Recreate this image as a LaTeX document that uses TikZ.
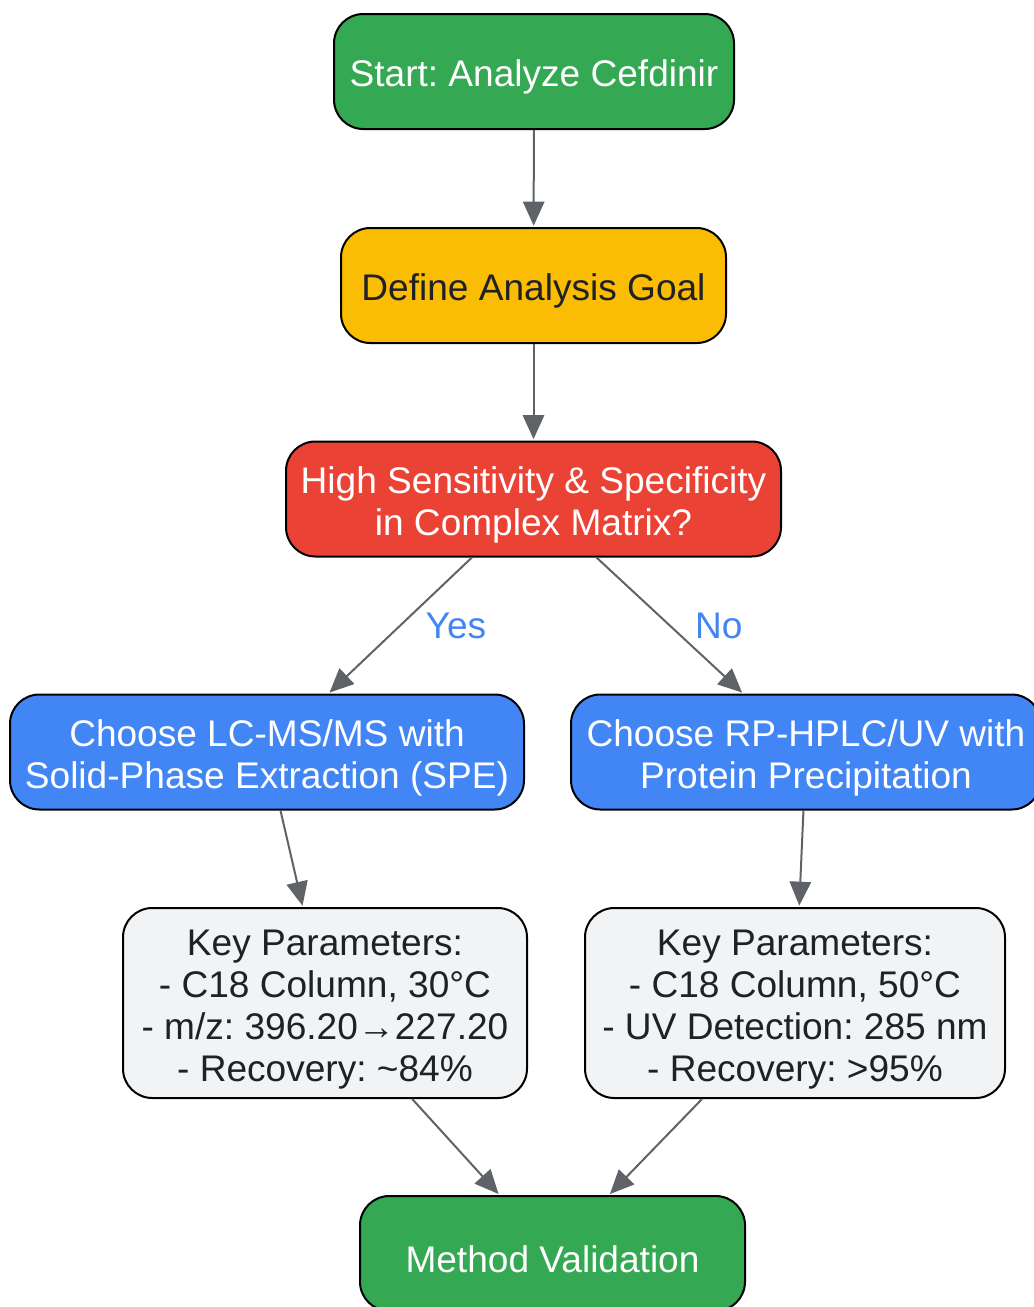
\documentclass[tikz,border=0pt]{standalone}
\usepackage{fontspec}
\setmainfont{Liberation Sans}
\usetikzlibrary{arrows.meta,positioning}
\frenchspacing

\definecolor{gGreen}{HTML}{34A853}
\definecolor{gYellow}{HTML}{FBBC04}
\definecolor{gRed}{HTML}{EA4335}
\definecolor{gBlue}{HTML}{4285F4}
\definecolor{gLight}{HTML}{F1F3F4}
\definecolor{gDark}{HTML}{202124}
\definecolor{gGrey}{HTML}{5F6368}

% lifts the first line so the text sits a bit lower in its box
\newcommand{\boxlift}{\rule{0pt}{28.5pt}}

\begin{document}
\begin{tikzpicture}[
  x=0.75pt, y=-0.75pt,
  box/.style={rectangle, rounded corners=22pt, draw=black, line width=1.5pt,
    align=center, inner sep=0pt, minimum height=86.25pt,
    font=\fontsize{27.8}{31.5}\selectfont},
  startbox/.style={box, fill=gGreen, text=white},
  goalbox/.style={box, fill=gYellow, text=gDark},
  askbox/.style={box, fill=gRed, text=white},
  choicebox/.style={box, fill=gBlue, text=white},
  parambox/.style={box, fill=gLight, text=gDark, minimum height=142.5pt},
  flow/.style={-{Triangle[length=18pt, width=16pt]}, draw=gGrey, fill=gGrey, line width=1.5pt, shorten >=1pt},
  answer/.style={text=gBlue, font=\fontsize{27.8}{31.5}\selectfont}
]
\useasboundingbox (0,0) rectangle (1033,1307);

\node[startbox, minimum width=300pt] (start) at (534,71.5) {\boxlift Start: Analyze Cefdinir};
\node[goalbox, minimum width=288.75pt] (goal) at (533.5,285.5) {\boxlift Define Analysis Goal};
\node[askbox, minimum width=371.25pt] (ask) at (533.5,499) {\boxlift High Sensitivity \& Specificity\\in Complex Matrix?};
\node[choicebox, minimum width=385.5pt] (lcms) at (267,752) {\boxlift Choose LC-MS/MS with\\Solid-Phase Extraction (SPE)};
\node[choicebox, minimum width=352.5pt] (hplc) at (806,752) {\boxlift Choose RP-HPLC/UV with\\Protein Precipitation};
\node[parambox, minimum width=303pt] (lcpar) at (325,1003) {\boxlift Key Parameters:\\- C18 Column, 30°C\\- m/z: 396.20→227.20\\- Recovery: \textasciitilde84\%};
\node[parambox, minimum width=315pt] (hppar) at (795,1003) {\boxlift Key Parameters:\\- C18 Column, 50°C\\- UV Detection: 285 nm\\- Recovery: >95\%};
\node[startbox, minimum width=288.75pt] (valid) at (552.5,1253.5) {\boxlift Method Validation};

\draw[flow] (start) -- (goal);
\draw[flow] (goal) -- (ask);
\draw[flow] (ask) -- node[answer, right=15pt] {Yes} (lcms);
\draw[flow] (ask) -- node[answer, right=15pt] {No} (hplc);
\draw[flow] (lcms) -- (lcpar);
\draw[flow] (hplc) -- (hppar);
\draw[flow] (lcpar) -- (valid);
\draw[flow] (hppar) -- (valid);
\end{tikzpicture}
\end{document}
